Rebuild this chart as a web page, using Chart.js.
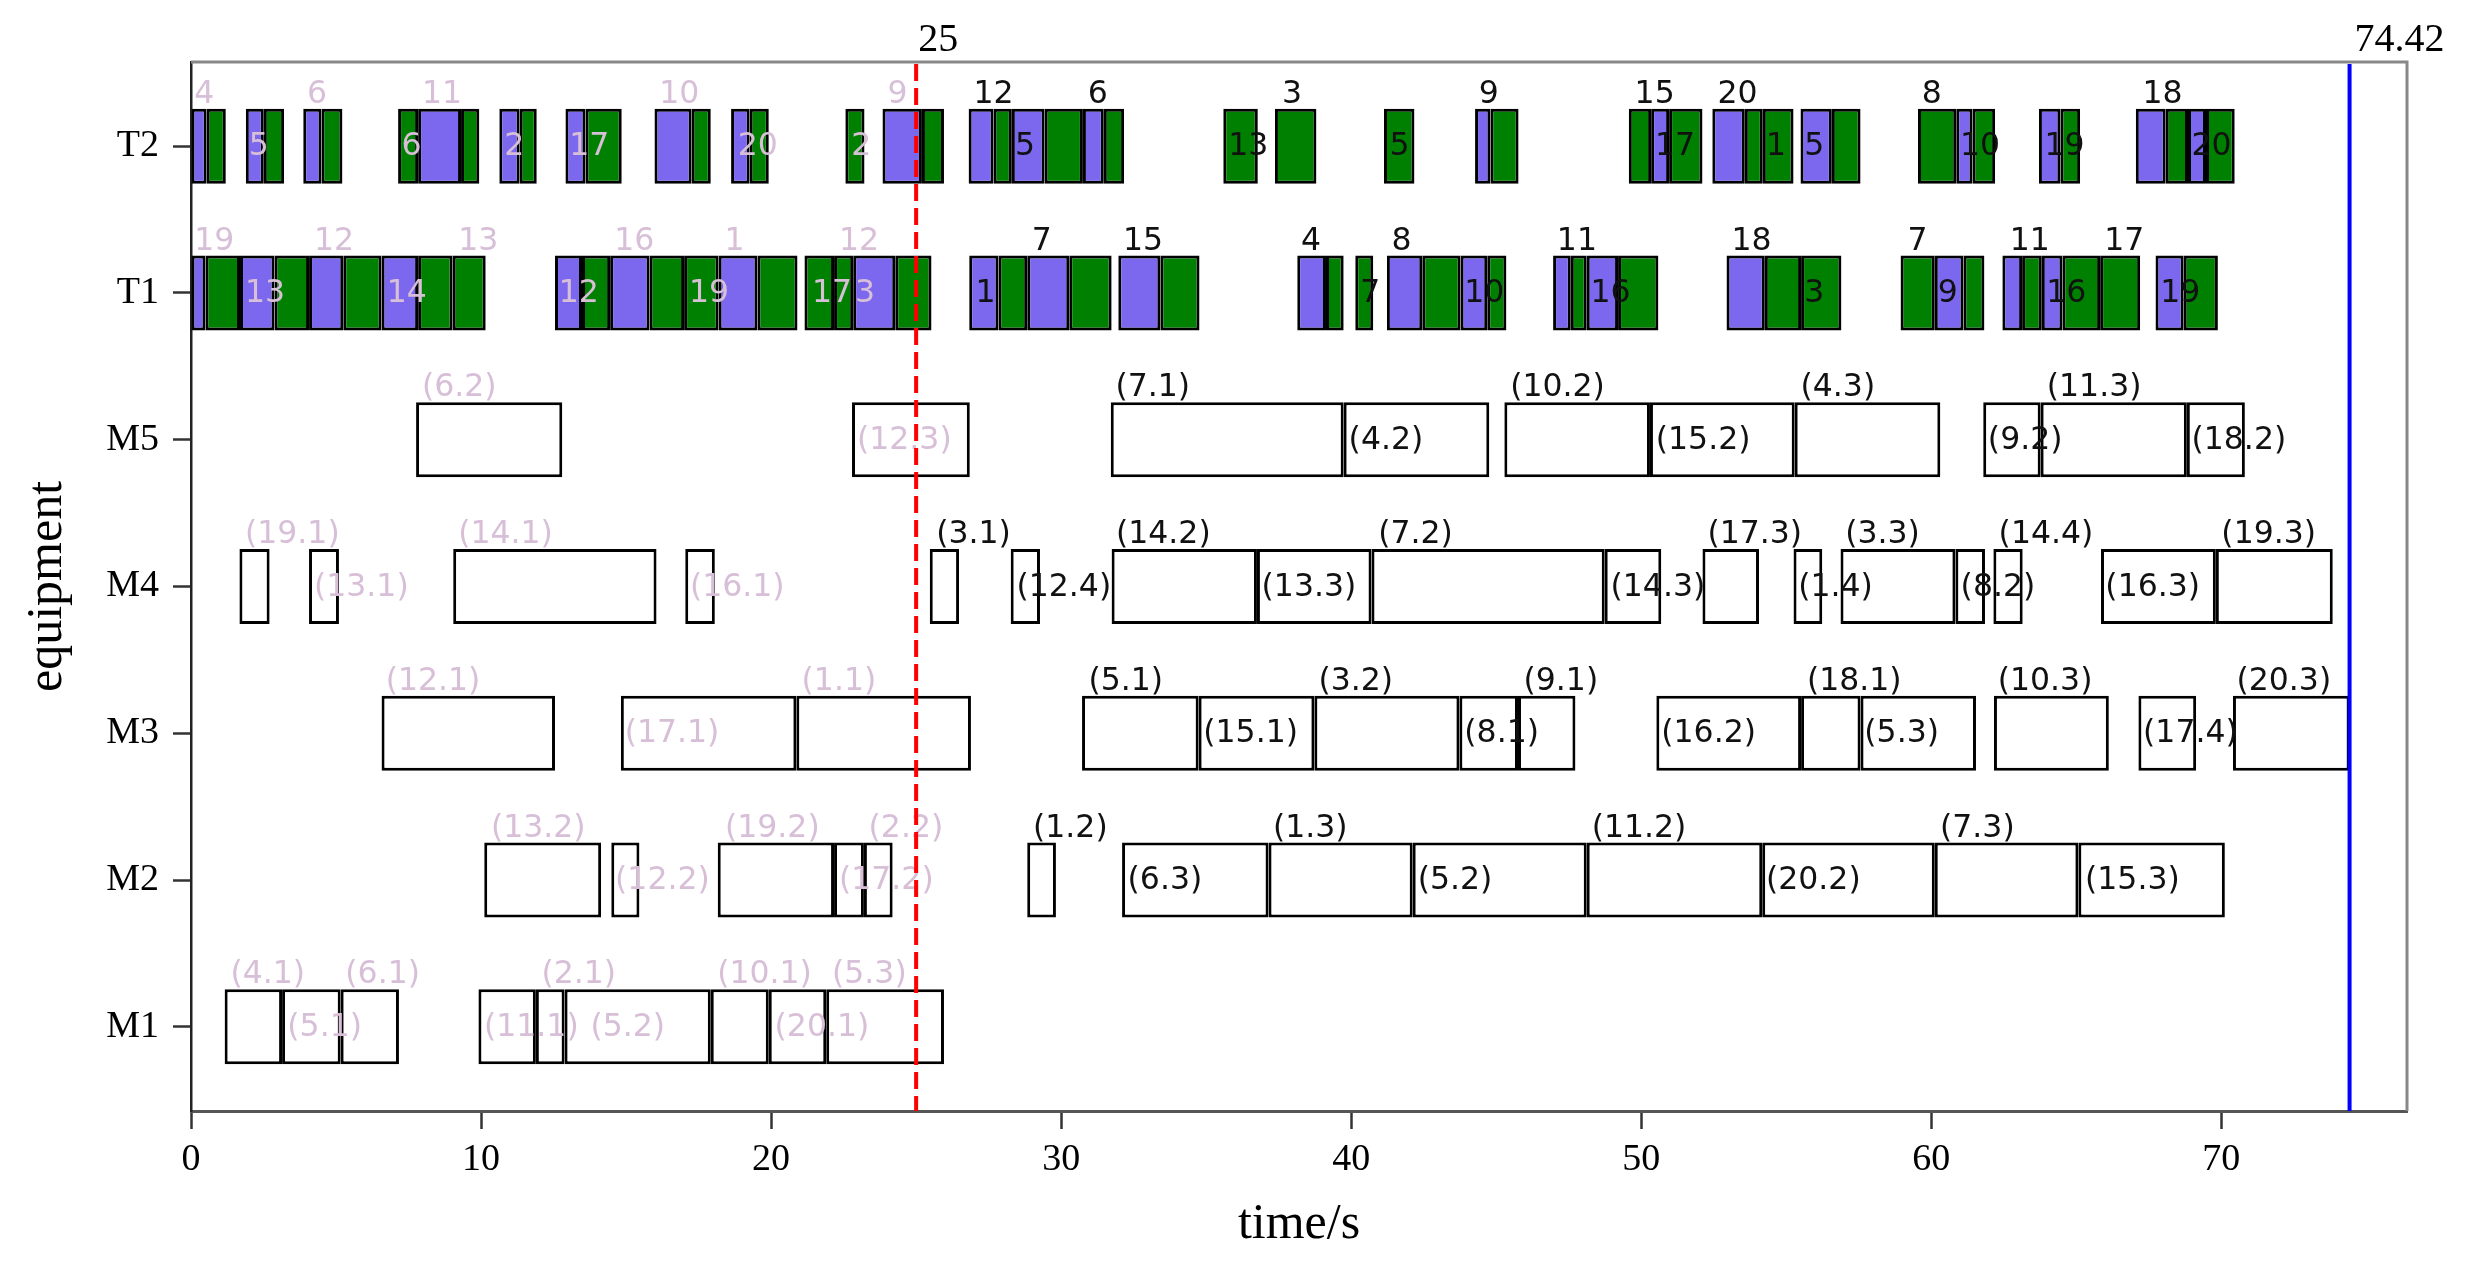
<!DOCTYPE html>
<html>
<head>
<meta charset="utf-8">
<script src="https://cdn.jsdelivr.net/npm/chart.js@4.4.1/dist/chart.umd.min.js"></script>
<style>
  html, body { margin: 0; padding: 0; background: #fff; }
  #wrap { width: 2483px; height: 1270px; }
</style>
</head>
<body>
<div id="wrap"><canvas id="gantt" width="2483" height="1270"></canvas></div>
<script>
/* Gantt chart of machine (M1-M5) and transporter (T1, T2) schedules,
   reschedule point at t = 25 and makespan 74.42. */

const ROWS = ["M1", "M2", "M3", "M4", "M5", "T1", "T2"];
const X_TICKS = [0, 10, 20, 30, 40, 50, 60, 70];
const X_MAX = 76.4;
const RESCHEDULE_T = 25;
const MAKESPAN = 74.42;

// machine operations [start, end]
const M1_OPS = [[1.16, 3.14], [3.14, 5.16], [5.16, 7.17], [9.91, 11.89], [11.89, 12.88], [12.88, 17.92],
  [17.92, 19.92], [19.92, 21.90], [21.90, 25.96]];
const M2_OPS = [[10.11, 14.14], [14.49, 15.46], [18.16, 22.17], [22.17, 23.20], [23.20, 24.19], [28.83, 29.82],
  [32.10, 37.15], [37.15, 42.12], [42.12, 48.12], [48.12, 54.17], [54.17, 60.12], [60.12, 65.07], [65.07, 70.12]];
const M3_OPS = [[6.57, 12.55], [14.82, 20.87], [20.87, 26.89], [30.72, 34.74], [34.74, 38.73], [38.73, 43.73],
  [43.73, 45.75], [45.75, 47.73], [50.52, 55.51], [55.51, 57.56], [57.56, 61.54], [62.16, 66.12], [67.14, 69.13],
  [70.40, 74.42]];
const M4_OPS = [[1.67, 2.71], [4.07, 5.10], [9.04, 16.05], [17.04, 18.06], [25.47, 26.48], [28.26, 29.27],
  [31.74, 36.75], [36.75, 40.70], [40.70, 48.74], [48.74, 50.69], [52.11, 54.06], [55.25, 56.24], [56.87, 60.83],
  [60.83, 61.85], [62.14, 63.15], [65.85, 69.81], [69.81, 73.84]];
const M5_OPS = [[7.76, 12.80], [22.79, 26.85], [31.71, 39.74], [39.74, 44.76], [45.28, 50.30], [50.30, 55.29],
  [55.29, 60.31], [61.79, 63.77], [63.77, 68.81], [68.81, 70.81]];

// transporter moves [start, end, kind]  p = loaded, g = empty
const T1_SEGS = [
  [0, 0.50, "p"], [0.50, 1.69, "g"], [1.69, 2.88, "p"], [2.88, 4.07, "g"], [4.07, 5.25, "p"], [5.25, 6.57, "g"],
  [6.57, 7.83, "p"], [7.83, 9.02, "g"], [9.02, 10.16, "g"],
  [12.55, 13.48, "p"], [13.48, 14.45, "g"], [14.45, 15.81, "p"], [15.81, 17.00, "g"], [17.00, 18.19, "g"],
  [18.19, 19.53, "p"], [19.53, 20.91, "g"],
  [21.15, 22.17, "g"], [22.17, 22.83, "g"], [22.83, 24.28, "p"], [24.28, 25.53, "g"],
  [26.83, 27.84, "p"], [27.84, 28.83, "g"], [28.83, 30.28, "p"], [30.28, 31.74, "g"],
  [31.97, 33.42, "p"], [33.42, 34.77, "g"],
  [38.14, 39.13, "p"], [39.13, 39.74, "g"],
  [40.14, 40.76, "g"],
  [41.23, 42.45, "p"], [42.45, 43.77, "g"], [43.77, 44.69, "p"], [44.69, 45.35, "g"],
  [46.96, 47.57, "p"], [47.57, 48.12, "g"], [48.12, 49.20, "p"], [49.20, 50.59, "g"],
  [52.94, 54.26, "p"], [54.26, 55.51, "g"], [55.51, 56.90, "g"],
  [58.94, 60.12, "g"], [60.12, 61.11, "p"], [61.11, 61.83, "g"],
  [62.45, 63.13, "p"], [63.13, 63.81, "g"], [63.81, 64.52, "p"], [64.52, 65.82, "g"], [65.82, 67.20, "g"],
  [67.73, 68.70, "p"], [68.70, 69.88, "g"]
];
const T2_SEGS = [
  [0, 0.54, "p"], [0.54, 1.20, "g"],
  [1.89, 2.51, "p"], [2.51, 3.21, "g"],
  [3.87, 4.50, "p"], [4.50, 5.22, "g"],
  [7.14, 7.83, "g"], [7.83, 9.31, "p"], [9.31, 9.94, "g"],
  [10.63, 11.33, "p"], [11.33, 11.92, "g"],
  [12.91, 13.60, "p"], [13.60, 14.85, "g"],
  [15.98, 17.26, "p"], [17.26, 17.92, "g"],
  [18.62, 19.26, "p"], [19.26, 19.92, "g"],
  [22.56, 23.22, "g"],
  [23.84, 25.20, "p"], [25.20, 25.96, "g"],
  [26.81, 27.67, "p"], [27.67, 28.30, "g"], [28.30, 29.43, "p"], [29.43, 30.75, "g"], [30.75, 31.47, "p"],
  [31.47, 32.17, "g"],
  [35.59, 36.78, "g"],
  [37.37, 38.80, "g"],
  [41.13, 42.18, "g"],
  [44.27, 44.80, "p"], [44.80, 45.77, "g"],
  [49.57, 50.34, "g"], [50.34, 50.96, "p"], [50.96, 52.11, "g"],
  [52.45, 53.57, "p"], [53.57, 54.19, "g"], [54.19, 55.25, "g"],
  [55.49, 56.57, "p"], [56.57, 57.56, "g"],
  [59.54, 60.86, "g"], [60.86, 61.42, "p"], [61.42, 62.20, "g"],
  [63.71, 64.45, "p"], [64.45, 65.13, "g"],
  [67.05, 68.08, "p"], [68.08, 68.85, "g"], [68.85, 69.47, "p"], [69.47, 70.46, "g"]
];

// labels [text, time, a = above bar / i = inside bar]
const M1_LABELS = [["(4.1)", 1.36, "a"], ["(5.1)", 3.32, "i"], ["(6.1)", 5.32, "a"], ["(11.1)", 10.10, "i"],
  ["(2.1)", 12.08, "a"], ["(5.2)", 13.77, "i"], ["(10.1)", 18.14, "a"], ["(20.1)", 20.12, "i"], ["(5.3)", 22.10, "a"]];
const M2_LABELS = [["(13.2)", 10.34, "a"], ["(12.2)", 14.62, "i"], ["(19.2)", 18.41, "a"], ["(17.2)", 22.34, "i"],
  ["(2.2)", 23.36, "a"], ["(1.2)", 29.03, "a"], ["(6.3)", 32.29, "i"], ["(1.3)", 37.30, "a"], ["(5.2)", 42.29, "i"],
  ["(11.2)", 48.29, "a"], ["(20.2)", 54.30, "i"], ["(7.3)", 60.30, "a"], ["(15.3)", 65.30, "i"]];
const M3_LABELS = [["(12.1)", 6.71, "a"], ["(17.1)", 14.95, "i"], ["(1.1)", 21.05, "a"], ["(5.1)", 30.94, "a"],
  ["(15.1)", 34.90, "i"], ["(3.2)", 38.87, "a"], ["(8.1)", 43.90, "i"], ["(9.1)", 45.94, "a"], ["(16.2)", 50.69, "i"],
  ["(18.1)", 55.71, "a"], ["(5.3)", 57.69, "i"], ["(10.3)", 62.29, "a"], ["(17.4)", 67.30, "i"], ["(20.3)", 70.52, "a"]];
const M4_LABELS = [["(19.1)", 1.86, "a"], ["(13.1)", 4.24, "i"], ["(14.1)", 9.21, "a"], ["(16.1)", 17.20, "i"],
  ["(3.1)", 25.69, "a"], ["(12.4)", 28.46, "i"], ["(14.2)", 31.89, "a"], ["(13.3)", 36.91, "i"], ["(7.2)", 40.93, "a"],
  ["(14.3)", 48.94, "i"], ["(17.3)", 52.28, "a"], ["(1.4)", 55.41, "i"], ["(3.3)", 57.03, "a"], ["(8.2)", 61.01, "i"],
  ["(14.4)", 62.32, "a"], ["(16.3)", 66.00, "i"], ["(19.3)", 70.00, "a"]];
const M5_LABELS = [["(6.2)", 7.96, "a"], ["(12.3)", 22.96, "i"], ["(7.1)", 31.87, "a"], ["(4.2)", 39.91, "i"],
  ["(10.2)", 45.48, "a"], ["(15.2)", 50.50, "i"], ["(4.3)", 55.49, "a"], ["(9.2)", 61.95, "i"], ["(11.3)", 63.98, "a"],
  ["(18.2)", 68.97, "i"]];
const T1_LABELS = [["19", 0.11, "a"], ["13", 1.86, "i"], ["12", 4.24, "a"], ["14", 6.75, "i"], ["13", 9.21, "a"],
  ["12", 12.68, "i"], ["16", 14.59, "a"], ["19", 17.17, "i"], ["1", 18.39, "a"], ["17", 21.41, "i"], ["12", 22.34, "a"],
  ["3", 22.89, "i"], ["1", 27.05, "i"], ["7", 28.99, "a"], ["15", 32.13, "a"], ["4", 38.27, "a"], ["7", 40.31, "i"],
  ["8", 41.39, "a"], ["10", 43.90, "i"], ["11", 47.09, "a"], ["16", 48.25, "i"], ["18", 53.11, "a"], ["3", 55.62, "i"],
  ["7", 59.18, "a"], ["9", 60.22, "i"], ["11", 62.70, "a"], ["16", 63.96, "i"], ["17", 65.96, "a"], ["19", 67.89, "i"]];
const T2_LABELS = [["4", 0.11, "a"], ["5", 1.99, "i"], ["6", 4.00, "a"], ["6", 7.26, "i"], ["11", 7.96, "a"],
  ["2", 10.80, "i"], ["17", 13.04, "i"], ["10", 16.14, "a"], ["20", 18.85, "i"], ["2", 22.76, "i"], ["9", 24.01, "a"],
  ["12", 26.98, "a"], ["5", 28.41, "i"], ["6", 30.92, "a"], ["13", 35.76, "i"], ["3", 37.61, "a"], ["5", 41.32, "i"],
  ["9", 44.40, "a"], ["15", 49.77, "a"], ["17", 50.47, "i"], ["20", 52.63, "a"], ["1", 54.30, "i"], ["5", 55.62, "i"],
  ["8", 59.67, "a"], ["10", 60.99, "i"], ["19", 63.90, "i"], ["18", 67.28, "a"], ["20", 68.97, "i"]];

const BAR_H = 0.51;
const C = { loaded: "#7b68ee", empty: "#008000", edge: "#000000", pink: "#d8bfd8", ink: "#111111" };
const SERIF = "'Liberation Serif', 'Times New Roman', serif";
const SANS = "'DejaVu Sans', sans-serif";

const toBars = (segs, row) => segs.map(s => ({ x: [s[0], s[1]], y: row }));
const machineBars = [M1_OPS, M2_OPS, M3_OPS, M4_OPS, M5_OPS].flatMap((ops, i) => toBars(ops, i));
const tRows = [[T1_SEGS, 5], [T2_SEGS, 6]];
const loadedBars = tRows.flatMap(([segs, r]) => toBars(segs.filter(s => s[2] === "p"), r));
const emptyBars = tRows.flatMap(([segs, r]) => toBars(segs.filter(s => s[2] === "g"), r));
const labelRows = [M1_LABELS, M2_LABELS, M3_LABELS, M4_LABELS, M5_LABELS, T1_LABELS, T2_LABELS];

const barStyle = {
  borderColor: C.edge, borderWidth: 3, borderSkipped: false, grouped: false,
  barPercentage: BAR_H, categoryPercentage: 1
};

const decor = {
  id: "decor",
  afterDatasetsDraw(chart) {
    const { ctx, chartArea: a, scales: { x, y } } = chart;
    const half = Math.abs(y.getPixelForValue(BAR_H / 2) - y.getPixelForValue(0));
    ctx.save();
    // operation labels
    ctx.font = "31.5px " + SANS;
    ctx.textAlign = "left";
    ctx.textBaseline = "alphabetic";
    labelRows.forEach((labels, row) => {
      const yc = y.getPixelForValue(row);
      labels.forEach(([txt, t, pos]) => {
        ctx.fillStyle = t < RESCHEDULE_T ? C.pink : C.ink;
        ctx.fillText(txt, x.getPixelForValue(t), pos === "a" ? yc - half - 6 : yc + 9);
      });
    });
    // frame top / right
    ctx.strokeStyle = "#888";
    ctx.lineWidth = 3;
    ctx.beginPath();
    ctx.moveTo(a.left, a.top); ctx.lineTo(a.right, a.top); ctx.lineTo(a.right, a.bottom);
    ctx.stroke();
    // reschedule line
    const xr = x.getPixelForValue(RESCHEDULE_T);
    ctx.strokeStyle = "#ff0000";
    ctx.lineWidth = 4;
    ctx.setLineDash([17, 7]);
    ctx.beginPath(); ctx.moveTo(xr, a.top + 2); ctx.lineTo(xr, a.bottom); ctx.stroke();
    // makespan line
    const xm = x.getPixelForValue(MAKESPAN);
    ctx.setLineDash([]);
    ctx.strokeStyle = "#0000ff";
    ctx.beginPath(); ctx.moveTo(xm, a.top + 2); ctx.lineTo(xm, a.bottom); ctx.stroke();
    // values above the plot
    ctx.fillStyle = "#000";
    ctx.font = "40px " + SERIF;
    ctx.fillText(String(RESCHEDULE_T), xr + 2, a.top - 11);
    ctx.fillText(String(MAKESPAN), xm + 5, a.top - 11);
    ctx.restore();
  }
};

new Chart(document.getElementById("gantt"), {
  type: "bar",
  data: {
    datasets: [
      { label: "machine", data: machineBars, backgroundColor: "#ffffff", ...barStyle },
      { label: "loaded", data: loadedBars, backgroundColor: C.loaded, ...barStyle },
      { label: "empty", data: emptyBars, backgroundColor: C.empty, ...barStyle }
    ]
  },
  options: {
    indexAxis: "y",
    responsive: false, animation: false, devicePixelRatio: 1,
    layout: { padding: { left: 0, top: 62, right: 76, bottom: 0 } },
    plugins: { legend: { display: false }, tooltip: { enabled: false } },
    scales: {
      x: {
        type: "linear", min: 0, max: X_MAX,
        afterBuildTicks: (s) => { s.ticks = X_TICKS.map(v => ({ value: v })); },
        afterFit: (s) => { s.height = 159; },
        grid: { drawOnChartArea: false, drawTicks: true, tickLength: 18, tickWidth: 2.5, tickColor: "#333" },
        border: { display: true, color: "#555", width: 3 },
        ticks: { color: "#000", font: { family: SERIF, size: 38 }, padding: 8, maxRotation: 0, autoSkip: false },
        title: { display: true, text: "time/s", color: "#000", font: { family: SERIF, size: 50 }, padding: { top: 0, bottom: 15 } }
      },
      y: {
        type: "linear", min: -0.574, max: 6.574, offset: false,
        afterBuildTicks: (s) => { s.ticks = ROWS.map((_, i) => ({ value: i })); },
        afterFit: (s) => { s.width = 191; },
        grid: { offset: false, drawOnChartArea: false, drawTicks: true, tickLength: 18, tickWidth: 2.5, tickColor: "#333" },
        border: { display: true, color: "#222", width: 2.5 },
        ticks: { color: "#000", font: { family: SERIF, size: 38 }, padding: 14, callback: (v) => ROWS[v] ?? "" },
        title: { display: true, text: "equipment", color: "#000", font: { family: SERIF, size: 50 }, padding: { top: 18, bottom: 0 } }
      }
    }
  },
  plugins: [decor]
});
</script>
</body>
</html>
